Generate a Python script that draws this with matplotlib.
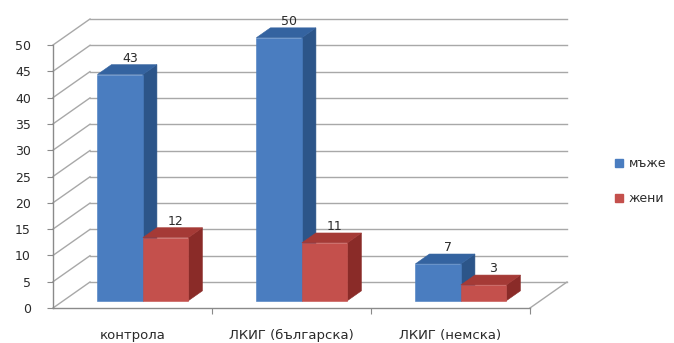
import matplotlib
matplotlib.use("Agg")
import matplotlib.pyplot as plt
from matplotlib.patches import Polygon, Patch

categories = ["контрола", "ЛКИГ (българска)", "ЛКИГ (немска)"]
men = [43, 50, 7]
women = [12, 11, 3]
series_names = ["мъже", "жени"]
y_ticks = list(range(0, 51, 5))

W, H = 674, 343
fig = plt.figure(figsize=(W / 100, H / 100), dpi=100)
fig.patch.set_facecolor("white")

text_c = "#2a2a2a"

# front plane of the 3-D box
ax = fig.add_axes([53 / W, (H - 308) / H, (530 - 53) / W, (308 - 45) / H])
ax.set_xlim(0, len(categories))
ax.set_ylim(0, 50)
ax.set_facecolor("none")

px_x = (530 - 53) / len(categories)   # pixels per category
px_y = (308 - 45) / 50                # pixels per value unit
DX = 37 / px_x                        # depth shift, category units
DY = 26 / px_y                        # depth shift, value units

grid_c = "#a8a8a8"
n = len(categories)
for v in y_ticks:
    # back wall line and side wall line
    ax.plot([DX, n + DX], [v + DY, v + DY], color=grid_c, lw=1.0, clip_on=False, zorder=1)
    ax.plot([0, DX], [v, v + DY], color=grid_c, lw=1.0, clip_on=False, zorder=1)
# right edge of the floor
ax.plot([n, n + DX], [0, DY], color=grid_c, lw=1.0, clip_on=False, zorder=1)

bw = 0.286          # bar width in category units
f0, f1 = 0.28, 0.66  # bar front/back depth fractions

blue = ("#4a7dc0", "#2c5589", "#3463a0")
red = ("#c4504c", "#8a2b28", "#a53a36")


def draw_bar(x0, v, cols, z):
    fx0 = x0 + f0 * DX
    fy0 = f0 * DY
    ox = (f1 - f0) * DX
    oy = (f1 - f0) * DY
    front = [(fx0, fy0), (fx0 + bw, fy0), (fx0 + bw, fy0 + v), (fx0, fy0 + v)]
    side = [(fx0 + bw, fy0), (fx0 + bw + ox, fy0 + oy),
            (fx0 + bw + ox, fy0 + v + oy), (fx0 + bw, fy0 + v)]
    top = [(fx0, fy0 + v), (fx0 + bw, fy0 + v),
           (fx0 + bw + ox, fy0 + v + oy), (fx0 + ox, fy0 + v + oy)]
    for poly, c in ((side, cols[1]), (top, cols[2]), (front, cols[0])):
        ax.add_patch(Polygon(poly, closed=True, facecolor=c, edgecolor=c,
                             lw=0.4, clip_on=False, zorder=z))
    ax.annotate(str(v), xy=(fx0 + bw / 2 + ox / 2, fy0 + v + oy),
                xytext=(2, 0), textcoords="offset points",
                ha="center", va="bottom", fontsize=9, color=text_c,
                zorder=z + 1, annotation_clip=False)


z = 3
for i in range(n):
    draw_bar(i + 0.5 - bw, men[i], blue, z)
    z += 2
    draw_bar(i + 0.5, women[i], red, z)
    z += 2

for s in ("top", "right"):
    ax.spines[s].set_visible(False)
for s in ("left", "bottom"):
    ax.spines[s].set_color("#8a8a8a")
    ax.spines[s].set_linewidth(1.0)

ax.set_yticks(y_ticks)
ax.set_yticklabels([str(t) for t in y_ticks])
ax.tick_params(axis="y", length=4, color="#8a8a8a", pad=12,
               labelsize=9, labelcolor=text_c)

ax.set_xticks([1, 2, 3])
ax.set_xticklabels([])
ax.tick_params(axis="x", which="major", length=4, color="#8a8a8a")
ax.set_xticks([i + 0.5 for i in range(n)], minor=True)
ax.set_xticklabels(categories, minor=True)
ax.tick_params(axis="x", which="minor", length=0, pad=15,
               labelsize=9.5, labelcolor=text_c)

handles = [Patch(facecolor=blue[0], edgecolor=blue[0]),
           Patch(facecolor=red[0], edgecolor=red[0])]
fig.legend(handles, series_names, loc="center left",
           bbox_to_anchor=(604 / W, 1 - 181 / H), frameon=False,
           fontsize=9, handlelength=0.6, handleheight=0.6,
           labelspacing=1.75, handletextpad=0.5, labelcolor=text_c)

fig.savefig("out.png", dpi=100, facecolor="white")
